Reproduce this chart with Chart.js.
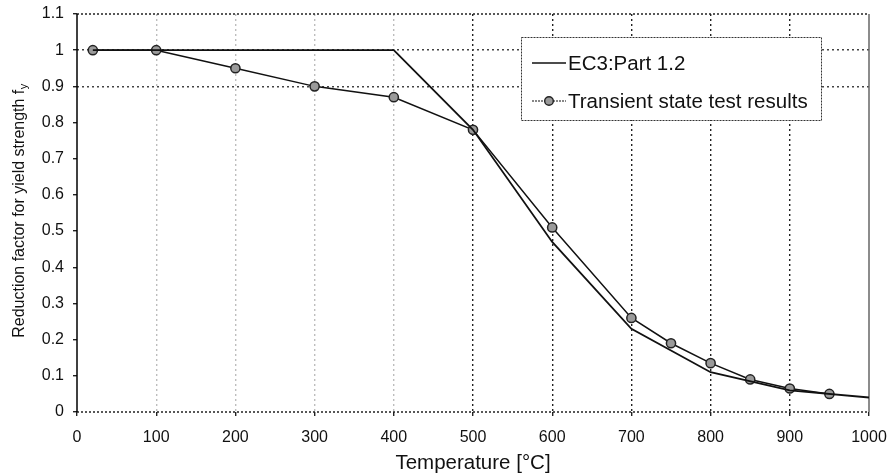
<!DOCTYPE html>
<html>
<head>
<meta charset="utf-8">
<script src="https://cdn.jsdelivr.net/npm/chart.js@4"></script>
<style>
  html, body { margin: 0; padding: 0; background: #fff; }
  #wrap { width: 891px; height: 474px; position: relative; }
</style>
</head>
<body>
<div id="wrap"><canvas id="c" width="891" height="474"></canvas></div>
<script>
// ---- data ----
const ec3Temps = [20, 100, 200, 300, 400, 500, 600, 700, 800, 900, 1000];
const ec3Values = [1, 1, 1, 1, 1, 0.78, 0.47, 0.23, 0.11, 0.06, 0.04];
const testTemps = [20, 100, 200, 300, 400, 500, 600, 700, 750, 800, 850, 900, 950];
const testValues = [1, 1, 0.95, 0.90, 0.87, 0.78, 0.51, 0.26, 0.19, 0.135, 0.09, 0.065, 0.05];
const seriesNames = ['EC3:Part 1.2', 'Transient state test results'];
const xTitle = 'Temperature [°C]';
const yTitleMain = 'Reduction factor for yield strength f';
const yTitleSub = 'y';
const xTicks = [0, 100, 200, 300, 400, 500, 600, 700, 800, 900, 1000];
const yTicks = [0, 0.1, 0.2, 0.3, 0.4, 0.5, 0.6, 0.7, 0.8, 0.9, 1, 1.1];

const FONT = 'Arial, "Liberation Sans", sans-serif';

const toPts = (xs, ys) => xs.map((x, i) => ({ x: x, y: ys[i] }));

const decor = {
  id: 'decor',
  beforeDatasetsDraw(chart) {
    const { ctx, chartArea: a } = chart;
    ctx.save();
    // frame
    ctx.lineWidth = 1.5;
    ctx.strokeStyle = '#222';
    ctx.setLineDash([2, 2]);
    ctx.beginPath();
    ctx.moveTo(a.left, a.top); ctx.lineTo(a.right, a.top);
    ctx.moveTo(a.left, a.bottom); ctx.lineTo(a.right, a.bottom);
    ctx.stroke();
    ctx.setLineDash([]);
    ctx.beginPath();
    ctx.strokeStyle = '#000';
    ctx.moveTo(a.left, a.top); ctx.lineTo(a.left, a.bottom);
    ctx.stroke();
    ctx.beginPath();
    ctx.strokeStyle = '#666';
    ctx.moveTo(a.right, a.top); ctx.lineTo(a.right, a.bottom);
    ctx.stroke();
    ctx.restore();
  },
  afterDraw(chart) {
    const { ctx, chartArea: a } = chart;
    ctx.save();
    // x title
    ctx.fillStyle = '#111';
    ctx.font = '20.5px ' + FONT;
    ctx.textAlign = 'center';
    ctx.textBaseline = 'middle';
    ctx.fillText(xTitle, (a.left + a.right) / 2, 463);
    // y title
    ctx.save();
    ctx.translate(18, (a.top + a.bottom) / 2 - 2);
    ctx.rotate(-Math.PI / 2);
    ctx.font = '16px ' + FONT;
    const w1 = ctx.measureText(yTitleMain).width;
    ctx.font = '11px ' + FONT;
    const w2 = ctx.measureText(yTitleSub).width;
    const total = w1 + w2;
    ctx.textAlign = 'left';
    ctx.textBaseline = 'alphabetic';
    ctx.font = '16px ' + FONT;
    ctx.fillText(yTitleMain, -total / 2, 6);
    ctx.font = '11px ' + FONT;
    ctx.fillText(yTitleSub, -total / 2 + w1 + 0.5, 9);
    ctx.restore();

    // legend
    const bx = 521, by = 37, bw = 300, bh = 83;
    ctx.fillStyle = '#fff';
    ctx.fillRect(bx, by, bw, bh);
    ctx.strokeStyle = '#333';
    ctx.lineWidth = 1;
    ctx.setLineDash([2, 1]);
    ctx.strokeRect(bx + 0.5, by + 0.5, bw, bh);
    ctx.setLineDash([]);
    const rows = [63, 101];
    ctx.strokeStyle = '#111';
    ctx.lineWidth = 1.5;
    ctx.beginPath();
    ctx.moveTo(532, rows[0]); ctx.lineTo(566, rows[0]);
    ctx.stroke();
    ctx.lineWidth = 1.2;
    ctx.setLineDash([2, 1]);
    ctx.beginPath();
    ctx.moveTo(532, rows[1]); ctx.lineTo(566, rows[1]);
    ctx.stroke();
    ctx.setLineDash([]);
    ctx.beginPath();
    ctx.arc(549, rows[1], 4.3, 0, Math.PI * 2);
    ctx.fillStyle = '#9a9a9a';
    ctx.fill();
    ctx.strokeStyle = '#222';
    ctx.lineWidth = 1.4;
    ctx.stroke();
    ctx.fillStyle = '#111';
    ctx.font = '20.5px ' + FONT;
    ctx.textAlign = 'left';
    ctx.textBaseline = 'middle';
    ctx.fillText(seriesNames[0], 568, rows[0] + 1);
    ctx.fillText(seriesNames[1], 568, rows[1] + 1);
    ctx.restore();
  }
};

new Chart(document.getElementById('c'), {
  type: 'scatter',
  data: {
    datasets: [
      {
        label: seriesNames[0],
        data: toPts(ec3Temps, ec3Values),
        showLine: true,
        borderColor: '#111',
        borderWidth: 1.8,
        pointRadius: 0,
        tension: 0
      },
      {
        label: seriesNames[1],
        data: toPts(testTemps, testValues),
        showLine: true,
        borderColor: '#111',
        borderWidth: 1.5,
        pointRadius: 4.6,
        pointBackgroundColor: '#9a9a9a',
        pointBorderColor: '#222',
        pointBorderWidth: 1.5,
        tension: 0
      }
    ]
  },
  options: {
    responsive: false,
    animation: false,
    layout: { padding: { top: 14, right: 22, left: 0, bottom: 0 } },
    plugins: { legend: { display: false }, tooltip: { enabled: false } },
    scales: {
      x: {
        type: 'linear',
        min: 0, max: 1000,
        afterBuildTicks: s => { s.ticks = xTicks.map(v => ({ value: v })); },
        afterFit: s => { s.height = 62; s.paddingLeft = 0; s.paddingRight = 0; },
        ticks: {
          color: '#111',
          font: { size: 16, family: FONT },
          padding: 12,
          maxRotation: 0,
          callback: v => String(v)
        },
        grid: {
          drawTicks: true,
          tickLength: 4,
          tickColor: '#222',
          lineWidth: 1.4,
          color: c => {
            const v = c.tick ? c.tick.value : 0;
            if (v === 0 || v === 1000) return 'rgba(0,0,0,0)';
            return v >= 500 ? '#222' : '#bdbdbd';
          }
        },
        border: { display: false, dash: [2, 3] }
      },
      y: {
        type: 'linear',
        min: 0, max: 1.1,
        afterBuildTicks: s => { s.ticks = yTicks.map(v => ({ value: v })); },
        afterFit: s => { s.width = 77; s.paddingTop = 0; s.paddingBottom = 0; },
        ticks: {
          color: '#111',
          font: { size: 16, family: FONT },
          padding: 9,
          callback: v => String(Number(v.toFixed(1)))
        },
        grid: {
          drawTicks: true,
          tickLength: 4,
          tickColor: '#222',
          lineWidth: 1.4,
          color: c => {
            const v = c.tick ? Math.round(c.tick.value * 10) : 0;
            if (v === 10 || v === 9) return '#444';
            return 'rgba(0,0,0,0)';
          }
        },
        border: { display: false, dash: [2, 3] }
      }
    }
  },
  plugins: [decor]
});
</script>
</body>
</html>
